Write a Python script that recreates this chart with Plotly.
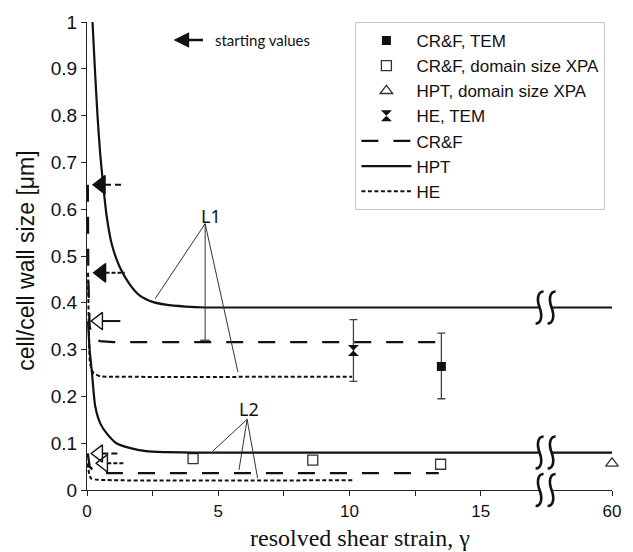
import plotly.graph_objects as go

# ---------------- data ----------------
# broken x axis: values up to ~17 are linear, 60 is drawn at axis position 20
BREAK_AT = 17.47
def ax_x(v):
    return [x if x <= BREAK_AT else 20.0 for x in v]

hpt_l1_x = [0.21, 0.3, 0.4, 0.5, 0.62, 0.75, 0.94, 1.25, 1.62, 2.0, 2.5, 3.0, 3.75, 4.5, 60]
hpt_l1_y = [1.0, 0.9, 0.8, 0.72, 0.65, 0.585, 0.526, 0.476, 0.44, 0.416, 0.402, 0.396, 0.392, 0.39, 0.39]
hpt_l2_x = [0.04, 0.1, 0.19, 0.31, 0.5, 0.75, 1.12, 1.62, 2.25, 3.0, 4.0, 60]
hpt_l2_y = [0.36, 0.30, 0.25, 0.18, 0.143, 0.121, 0.1, 0.09, 0.083, 0.081, 0.08, 0.08]
crf_l1_x = [0.03, 0.05, 0.1, 0.2, 0.5, 1.0, 13.4]
crf_l1_y = [0.652, 0.45, 0.35, 0.325, 0.318, 0.316, 0.316]
he_l1_x = [0.04, 0.07, 0.12, 0.25, 0.5, 1.0, 10.1]
he_l1_y = [0.464, 0.35, 0.27, 0.25, 0.243, 0.242, 0.242]
crf_l2_x = [0.03, 0.1, 0.3, 0.7, 13.4]
crf_l2_y = [0.078, 0.05, 0.038, 0.036, 0.036]
he_l2_x = [0.03, 0.08, 0.15, 0.4, 10.15]
he_l2_y = [0.057, 0.035, 0.025, 0.022, 0.021]

crf_tem_x = [13.5]
crf_tem_y = [0.264]
crf_tem_plus = [0.071]
crf_tem_minus = [0.069]
crf_xpa_x = [4.04, 8.6, 13.47]
crf_xpa_y = [0.067, 0.064, 0.055]
hpt_xpa_x = [60]
hpt_xpa_y = [0.057]
he_tem_x = [10.15]
he_tem_y = [0.298]
he_tem_plus = [0.066]
he_tem_minus = [0.066]

# starting-value arrows
arrow_y = [0.652, 0.464, 0.361, 0.078, 0.057]
arrow_tip_x = [0.19, 0.21, 0.12, 0.12, 0.31]
arrow_tail_x = [1.37, 1.44, 1.27, 1.27, 1.44]
arrow_filled = [True, True, False, False, False]
arrow_dash = ["6px,4px", "4px,2px", "solid", "6px,3px", "4px,2px"]

# leader lines for labels
l1_label = (4.74, 0.586)
l1_origin = (4.5, 0.569)
l1_targets = [(2.6, 0.409), (4.5, 0.32), (5.75, 0.252)]
l2_label = (6.19, 0.174)
l2_origin = (6.1, 0.151)
l2_targets = [(4.79, 0.083), (5.79, 0.043), (6.5, 0.025)]

x_tickvals = [0, 2.5, 5, 7.5, 10, 12.5, 15, 60]
x_ticktext = ["0", "", "5", "", "10", "", "15", "60"]
break_y = [0.39, 0.08, 0.0]

# ---------------- layout geometry ----------------
W, H = 633, 552
ML, MR, MT, MB = 87, 12, 21, 62
PW, PH = W - ML - MR, H - MT - MB
px_per_x = PW / 20.0

fig = go.Figure()

BLACK = "#111111"
fig.add_trace(go.Scatter(x=ax_x(crf_tem_x), y=crf_tem_y, mode="markers", name="CR&F, TEM",
    marker=dict(symbol="square", size=9, color=BLACK),
    error_y=dict(type="data", symmetric=False, array=crf_tem_plus, arrayminus=crf_tem_minus,
                 color="#444", thickness=1.3, width=4)))
fig.add_trace(go.Scatter(x=ax_x(crf_xpa_x), y=crf_xpa_y, mode="markers", name="CR&F, domain size XPA",
    marker=dict(symbol="square-open", size=10, color="#333", line=dict(width=1.3))))
fig.add_trace(go.Scatter(x=ax_x(hpt_xpa_x), y=hpt_xpa_y, mode="markers", name="HPT, domain size XPA",
    cliponaxis=False,
    marker=dict(symbol="triangle-up-open", size=11, color="#333", line=dict(width=1.3))))
fig.add_trace(go.Scatter(x=ax_x(he_tem_x), y=he_tem_y, mode="markers", name="HE, TEM",
    marker=dict(symbol="hourglass", size=11, color=BLACK),
    error_y=dict(type="data", symmetric=False, array=he_tem_plus, arrayminus=he_tem_minus,
                 color="#444", thickness=1.3, width=4)))

CRF_DASH = "17px,15px"
HE_DASH = "4px,2.5px"
fig.add_trace(go.Scatter(x=ax_x(crf_l1_x), y=crf_l1_y, mode="lines", name="CR&F",
    line=dict(color=BLACK, width=2.3, dash=CRF_DASH)))
fig.add_trace(go.Scatter(x=ax_x(hpt_l1_x), y=hpt_l1_y, mode="lines", name="HPT",
    line=dict(color=BLACK, width=2.2, shape="spline", smoothing=0.6)))
fig.add_trace(go.Scatter(x=ax_x(he_l1_x), y=he_l1_y, mode="lines", name="HE",
    line=dict(color=BLACK, width=2.0, dash=HE_DASH, shape="spline", smoothing=0.6)))
fig.add_trace(go.Scatter(x=ax_x(crf_l2_x), y=crf_l2_y, mode="lines", showlegend=False,
    line=dict(color=BLACK, width=2.3, dash=CRF_DASH)))
fig.add_trace(go.Scatter(x=ax_x(hpt_l2_x), y=hpt_l2_y, mode="lines", showlegend=False,
    line=dict(color=BLACK, width=2.2, shape="spline", smoothing=0.6)))
fig.add_trace(go.Scatter(x=ax_x(he_l2_x), y=he_l2_y, mode="lines", showlegend=False,
    line=dict(color=BLACK, width=2.0, dash=HE_DASH, shape="spline", smoothing=0.6)))

# starting-value arrows (shaft + head)
for yv, tip, tail, filled, dash in zip(arrow_y, arrow_tip_x, arrow_tail_x, arrow_filled, arrow_dash):
    size = 16 if filled else 15
    r = size / 2.0
    rt = r * 2 / 3 ** 0.5
    center = tip + rt / px_per_x
    base = tip + (rt + r / 2) / px_per_x
    fig.add_trace(go.Scatter(x=[base, tail], y=[yv, yv], mode="lines", showlegend=False,
        line=dict(color=BLACK, width=2.0, dash=dash)))
    fig.add_trace(go.Scatter(x=[center], y=[yv], mode="markers", showlegend=False, cliponaxis=False,
        marker=dict(symbol="triangle-left" if filled else "triangle-left-open", size=size,
                    color=BLACK, line=dict(width=1.4, color=BLACK))))

# leader lines
for origin, targets in [(l1_origin, l1_targets), (l2_origin, l2_targets)]:
    for tx, ty in targets:
        fig.add_trace(go.Scatter(x=[origin[0], tx], y=[origin[1], ty], mode="lines", showlegend=False,
            line=dict(color="#333", width=1)))
tee_half = 5 / px_per_x
fig.add_trace(go.Scatter(x=[l1_targets[1][0] - tee_half, l1_targets[1][0] + tee_half],
    y=[l1_targets[1][1], l1_targets[1][1]], mode="lines", showlegend=False,
    line=dict(color="#333", width=1.2)))

annotations = [
    dict(text="L1", x=l1_label[0], y=l1_label[1], xref="x", yref="y", showarrow=False,
         font=dict(family="Noto Sans", size=18, color=BLACK)),
    dict(text="L2", x=l2_label[0], y=l2_label[1], xref="x", yref="y", showarrow=False,
         font=dict(family="Noto Sans", size=18, color=BLACK)),
    dict(text="starting values", x=(215 - ML) / PW, y=(H - MB - 39) / PH, xref="paper", yref="paper",
         xanchor="left", yanchor="middle", showarrow=False,
         font=dict(family="Lato", size=15, color=BLACK)),
    dict(text="", x=(175 - ML) / PW, y=(H - MB - 39) / PH, xref="paper", yref="paper",
         showarrow=True, ax=31, ay=0, arrowhead=2, arrowsize=1.3, arrowwidth=2.4, arrowcolor=BLACK),
    dict(text="cell/cell wall size [μm]", x=(25 - ML) / PW, y=0.49, xref="paper", yref="paper",
         textangle=-90, showarrow=False, xanchor="center", yanchor="middle",
         font=dict(family="Liberation Sans", size=23, color=BLACK)),
    dict(text="resolved shear strain, γ", x=(365 - ML) / PW, y=(H - MB - 538) / PH,
         xref="paper", yref="paper", showarrow=False, xanchor="center", yanchor="middle",
         font=dict(family="Liberation Serif", size=24, color=BLACK)),
]

# axis-break marks (two wavy strokes)
shapes = []
bx = BREAK_AT / 20.0
for by in break_y:
    shapes.append(dict(type="rect", xref="paper", yref="paper", xsizemode="pixel", ysizemode="pixel",
                       xanchor=bx, yanchor=by, x0=-6, x1=6, y0=-3, y1=3,
                       fillcolor="white", line=dict(width=0), layer="above"))
    for off in (-6, 6):
        pts = [(4, 16), (-2, 16), (-3, 8), (0, 0), (3, -8), (2, -16), (-4, -16)]
        p = ["%g,%g" % (px + off, py) for px, py in pts]
        path = "M %s C %s %s %s C %s %s %s" % tuple(p)
        shapes.append(dict(type="path", xref="paper", yref="paper", xsizemode="pixel", ysizemode="pixel",
                           xanchor=bx, yanchor=by, path=path,
                           line=dict(color=BLACK, width=2.6), layer="above"))

fig.update_layout(
    width=W, height=H,
    margin=dict(l=ML, r=MR, t=MT, b=MB),
    paper_bgcolor="white", plot_bgcolor="white",
    showlegend=True,
    legend=dict(x=(360 - ML) / PW, y=(H - MB - 21) / PH, xanchor="left", yanchor="top",
                bordercolor="#c8c8c8", borderwidth=1, bgcolor="white",
                font=dict(family="Liberation Sans", size=17, color=BLACK),
                itemwidth=50, tracegroupgap=0),
    annotations=annotations,
    shapes=shapes,
    xaxis=dict(range=[0, 20], tickvals=ax_x(x_tickvals), ticktext=x_ticktext,
               showgrid=False, zeroline=False, showline=True, linecolor="#222", linewidth=1.3,
               ticks="outside", ticklen=5, tickcolor="#222", tickwidth=1.2,
               tickfont=dict(family="Liberation Sans", size=17, color=BLACK)),
    yaxis=dict(range=[0, 1], dtick=0.1, showgrid=False, zeroline=False, showline=True,
               linecolor="#222", linewidth=1.3, ticks="outside", ticklen=5, tickcolor="#222",
               tickwidth=1.2, tickfont=dict(family="Liberation Sans", size=19, color=BLACK)),
)

fig.write_html("out.html")
